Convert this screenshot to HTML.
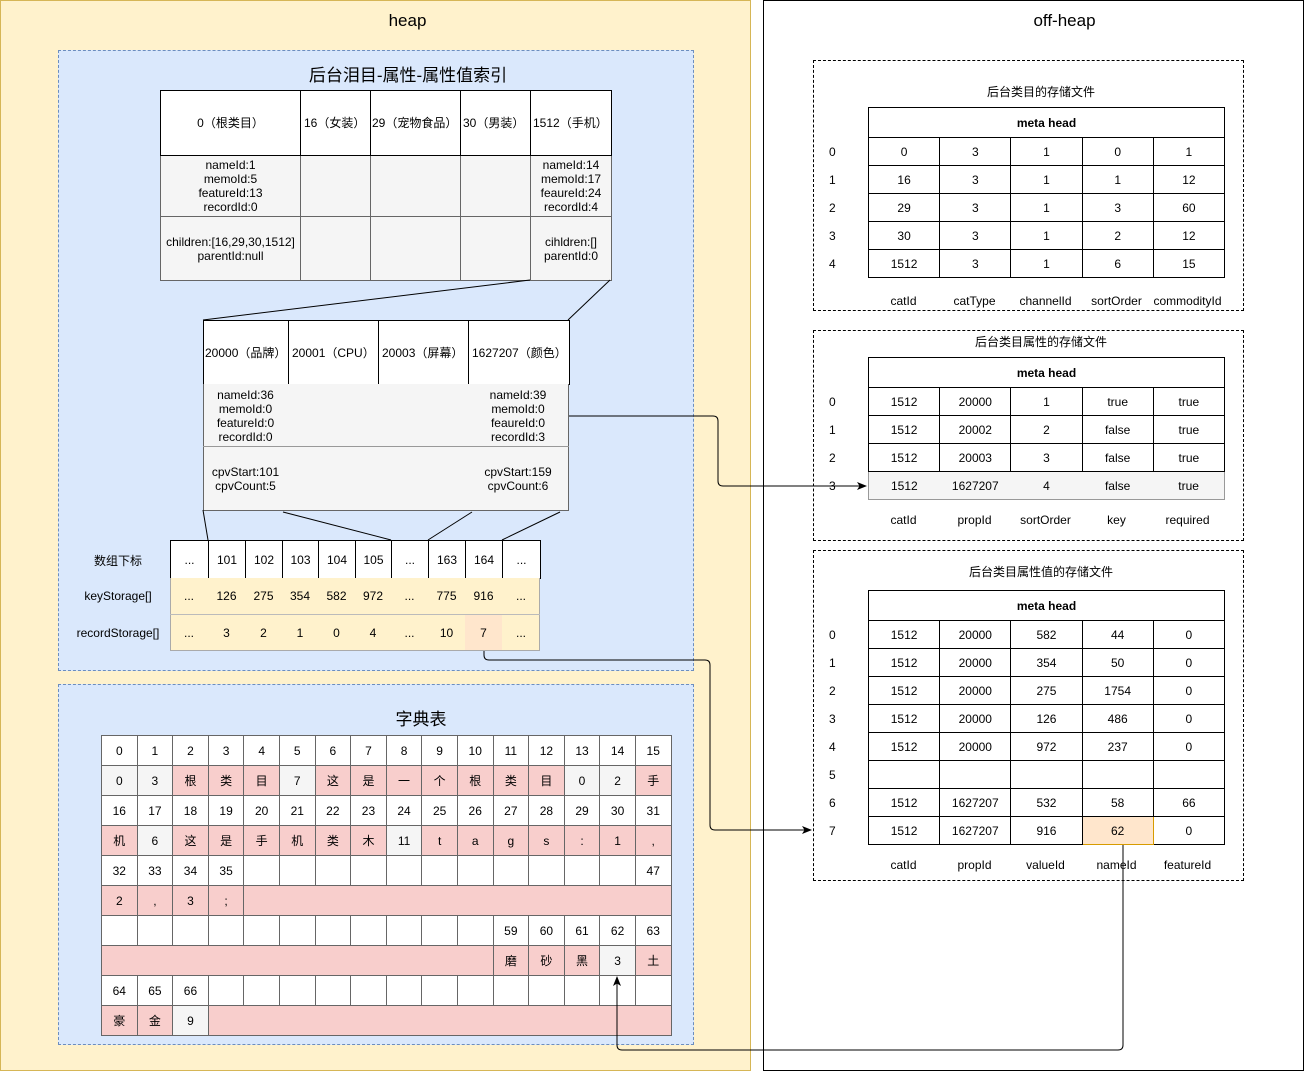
<!DOCTYPE html>
<html><head><meta charset="utf-8">
<style>
*{box-sizing:border-box;margin:0;padding:0}
body{width:1305px;height:1071px;position:relative;background:#fff;font-family:"Liberation Sans","Noto Sans CJK SC",sans-serif;font-size:12px;color:#000;overflow:hidden}
.a{position:absolute}
table{position:absolute;border-collapse:collapse;table-layout:fixed}
td{border:1px solid #000;text-align:center;vertical-align:middle;padding:0;font-size:12px;line-height:14px;white-space:nowrap;overflow:hidden}
.g td{border-color:#666}
.gr{background:#f5f5f5}
.pk{background:#f8cecc}
.pe{background:#ffe6cc}
.ye{background:#fff2cc}
.t{position:absolute;text-align:center;font-size:12px}
.lbl{position:absolute;font-size:12px;text-align:center;width:71px}
.idx{position:absolute;font-size:12px;left:829px}
</style></head><body>
<div class="a" style="left:0;top:0;width:751px;height:1071px;background:#fff2cc;border:1px solid #d6b656"></div>
<div class="a" style="left:763px;top:0;width:541px;height:1071px;background:#fff;border:1px solid #000"></div>
<div class="t" style="left:32px;top:11px;width:751px;font-size:17px">heap</div>
<div class="t" style="left:794px;top:11px;width:541px;font-size:17px">off-heap</div>

<div class="a" style="left:58px;top:50px;width:636px;height:621px;background:#dae8fc;border:1px dashed #6c8ebf"></div>
<div class="a" style="left:58px;top:684px;width:636px;height:361px;background:#dae8fc;border:1px dashed #6c8ebf"></div>
<div class="t" style="left:58px;top:61px;width:700px;font-size:17px">后台泪目-属性-属性值索引</div>
<div class="t" style="left:58px;top:705px;width:726px;font-size:17px">字典表</div>

<!-- top category table -->
<table class="g" style="left:160px;top:90px;width:451px">
<colgroup><col style="width:140px"><col style="width:70px"><col style="width:90px"><col style="width:70px"><col style="width:81px"></colgroup>
<tr style="height:65px;background:#fff"><td style="border-color:#000">0（根类目）</td><td style="text-align:left;padding-left:3px;border-color:#000">16（女装）</td><td style="text-align:left;padding-left:1px;border-color:#000">29（宠物食品）</td><td style="text-align:left;padding-left:2px;border-color:#000">30（男装）</td><td style="text-align:left;padding-left:2px;border-color:#000">1512（手机）</td></tr>
<tr style="height:61px" class="gr"><td>nameId:1<br>memoId:5<br>featureId:13<br>recordId:0</td><td></td><td></td><td></td><td>nameId:14<br>memoId:17<br>feaureId:24<br>recordId:4</td></tr>
<tr style="height:64px" class="gr"><td>children:[16,29,30,1512]<br>parentId:null</td><td></td><td></td><td></td><td>cihldren:[]<br>parentId:0</td></tr>
</table>

<!-- property table -->
<table class="g" style="left:203px;top:320px;width:366px">
<colgroup><col style="width:85px"><col style="width:90px"><col style="width:90px"><col style="width:101px"></colgroup>
<tr style="height:64px;background:#fff"><td style="text-align:left;padding-left:1px;border-color:#000">20000（品牌）</td><td style="text-align:left;padding-left:3px;border-color:#000">20001（CPU）</td><td style="text-align:left;padding-left:3px;border-color:#000">20003（屏幕）</td><td style="text-align:left;padding-left:3px;border-color:#000">1627207（颜色）</td></tr>
</table>
<div class="a gr" style="left:203px;top:384px;width:366px;height:127px;border:1px solid #666;border-top:none"></div>
<div class="a" style="left:203px;top:446px;width:366px;height:1px;background:#999"></div>
<div class="t" style="left:203px;top:388px;width:85px">nameId:36<br>memoId:0<br>featureId:0<br>recordId:0</div>
<div class="t" style="left:468px;top:388px;width:100px">nameId:39<br>memoId:0<br>feaureId:0<br>recordId:3</div>
<div class="t" style="left:203px;top:465px;width:85px">cpvStart:101<br>cpvCount:5</div>
<div class="t" style="left:468px;top:465px;width:100px">cpvStart:159<br>cpvCount:6</div>

<!-- array -->
<div class="t" style="left:70px;top:552px;width:96px">数组下标</div>
<div class="t" style="left:66px;top:589px;width:104px">keyStorage[]</div>
<div class="t" style="left:66px;top:626px;width:104px">recordStorage[]</div>
<table class="g" style="left:170px;top:540px;width:370px">
<colgroup><col style="width:38px"><col style="width:37px"><col style="width:37px"><col style="width:36px"><col style="width:37px"><col style="width:36px"><col style="width:37px"><col style="width:37px"><col style="width:37px"><col style="width:38px"></colgroup>
<tr style="height:38px;background:#fff"><td style="border-color:#000">...</td><td style="border-color:#000">101</td><td style="border-color:#000">102</td><td style="border-color:#000">103</td><td style="border-color:#000">104</td><td style="border-color:#000">105</td><td style="border-color:#000">...</td><td style="border-color:#000">163</td><td style="border-color:#000">164</td><td style="border-color:#000">...</td></tr>
</table>
<div class="a ye" style="left:170px;top:578px;width:370px;height:73px;border:1px solid #aaa;border-top:none"></div>
<div class="a" style="left:170px;top:614px;width:370px;height:1px;background:#bbb"></div>
<div class="a pe" style="left:465px;top:615px;width:37px;height:35px"></div>
<div class="t" style="left:170px;top:589px;width:38px">...</div><div class="t" style="left:208px;top:589px;width:37px">126</div><div class="t" style="left:245px;top:589px;width:37px">275</div><div class="t" style="left:282px;top:589px;width:36px">354</div><div class="t" style="left:318px;top:589px;width:37px">582</div><div class="t" style="left:355px;top:589px;width:36px">972</div><div class="t" style="left:391px;top:589px;width:37px">...</div><div class="t" style="left:428px;top:589px;width:37px">775</div><div class="t" style="left:465px;top:589px;width:37px">916</div><div class="t" style="left:502px;top:589px;width:38px">...</div>
<div class="t" style="left:170px;top:626px;width:38px">...</div><div class="t" style="left:208px;top:626px;width:37px">3</div><div class="t" style="left:245px;top:626px;width:37px">2</div><div class="t" style="left:282px;top:626px;width:36px">1</div><div class="t" style="left:318px;top:626px;width:37px">0</div><div class="t" style="left:355px;top:626px;width:36px">4</div><div class="t" style="left:391px;top:626px;width:37px">...</div><div class="t" style="left:428px;top:626px;width:37px">10</div><div class="t" style="left:465px;top:626px;width:37px">7</div><div class="t" style="left:502px;top:626px;width:38px">...</div>

<!-- dictionary -->
<table class="g" style="left:101px;top:735px;width:570px">
<colgroup><col span="16" style="width:35.6px"></colgroup>
<tr style="height:30px;background:#fff"><td>0</td><td>1</td><td>2</td><td>3</td><td>4</td><td>5</td><td>6</td><td>7</td><td>8</td><td>9</td><td>10</td><td>11</td><td>12</td><td>13</td><td>14</td><td>15</td></tr>
<tr style="height:30px"><td class="gr">0</td><td class="gr">3</td><td class="pk">根</td><td class="pk">类</td><td class="pk">目</td><td class="gr">7</td><td class="pk">这</td><td class="pk">是</td><td class="pk">一</td><td class="pk">个</td><td class="pk">根</td><td class="pk">类</td><td class="pk">目</td><td class="gr">0</td><td class="gr">2</td><td class="pk">手</td></tr>
<tr style="height:30px;background:#fff"><td>16</td><td>17</td><td>18</td><td>19</td><td>20</td><td>21</td><td>22</td><td>23</td><td>24</td><td>25</td><td>26</td><td>27</td><td>28</td><td>29</td><td>30</td><td>31</td></tr>
<tr style="height:30px"><td class="pk">机</td><td class="gr">6</td><td class="pk">这</td><td class="pk">是</td><td class="pk">手</td><td class="pk">机</td><td class="pk">类</td><td class="pk">木</td><td class="gr">11</td><td class="pk">t</td><td class="pk">a</td><td class="pk">g</td><td class="pk">s</td><td class="pk">:</td><td class="pk">1</td><td class="pk">,</td></tr>
<tr style="height:30px;background:#fff"><td>32</td><td>33</td><td>34</td><td>35</td><td></td><td></td><td></td><td></td><td></td><td></td><td></td><td></td><td></td><td></td><td></td><td>47</td></tr>
<tr style="height:30px" class="pk"><td>2</td><td>,</td><td>3</td><td>;</td><td colspan="12"></td></tr>
<tr style="height:30px;background:#fff"><td></td><td></td><td></td><td></td><td></td><td></td><td></td><td></td><td></td><td></td><td></td><td>59</td><td>60</td><td>61</td><td>62</td><td>63</td></tr>
<tr style="height:30px" class="pk"><td colspan="11"></td><td>磨</td><td>砂</td><td>黑</td><td class="gr">3</td><td>土</td></tr>
<tr style="height:30px;background:#fff"><td>64</td><td>65</td><td>66</td><td></td><td></td><td></td><td></td><td></td><td></td><td></td><td></td><td></td><td></td><td></td><td></td><td></td></tr>
<tr style="height:30px" class="pk"><td>豪</td><td>金</td><td class="gr">9</td><td colspan="13"></td></tr>
</table>

<!-- off-heap box 1 -->
<div class="a" style="left:813px;top:60px;width:431px;height:251px;border:1px dashed #000"></div>
<div class="t" style="left:813px;top:83px;width:456px">后台类目的存储文件</div>
<table style="left:868px;top:107px;width:356px">
<colgroup><col span="5" style="width:71.2px"></colgroup>
<tr style="height:30px"><td colspan="5" style="font-weight:bold">meta head</td></tr>
<tr style="height:28px"><td>0</td><td>3</td><td>1</td><td>0</td><td>1</td></tr>
<tr style="height:28px"><td>16</td><td>3</td><td>1</td><td>1</td><td>12</td></tr>
<tr style="height:28px"><td>29</td><td>3</td><td>1</td><td>3</td><td>60</td></tr>
<tr style="height:28px"><td>30</td><td>3</td><td>1</td><td>2</td><td>12</td></tr>
<tr style="height:28px"><td>1512</td><td>3</td><td>1</td><td>6</td><td>15</td></tr>
</table>
<div class="idx" style="top:145px">0</div><div class="idx" style="top:173px">1</div><div class="idx" style="top:201px">2</div><div class="idx" style="top:229px">3</div><div class="idx" style="top:257px">4</div>
<div class="lbl" style="left:868px;top:294px">catId</div><div class="lbl" style="left:939px;top:294px">catType</div><div class="lbl" style="left:1010px;top:294px">channelId</div><div class="lbl" style="left:1081px;top:294px">sortOrder</div><div class="lbl" style="left:1150px;top:294px;width:75px">commodityId</div>

<!-- off-heap box 2 -->
<div class="a" style="left:813px;top:330px;width:431px;height:211px;border:1px dashed #000"></div>
<div class="t" style="left:813px;top:333px;width:456px">后台类目属性的存储文件</div>
<table style="left:868px;top:357px;width:356px">
<colgroup><col span="5" style="width:71.2px"></colgroup>
<tr style="height:30px"><td colspan="5" style="font-weight:bold">meta head</td></tr>
<tr style="height:28px"><td>1512</td><td>20000</td><td>1</td><td>true</td><td>true</td></tr>
<tr style="height:28px"><td>1512</td><td>20002</td><td>2</td><td>false</td><td>true</td></tr>
<tr style="height:28px"><td>1512</td><td>20003</td><td>3</td><td>false</td><td>true</td></tr>
<tr style="height:28px" class="gr"><td style="border-color:#999;border-right:none">1512</td><td style="border:none;border-bottom:1px solid #999">1627207</td><td style="border:none;border-bottom:1px solid #999">4</td><td style="border:none;border-bottom:1px solid #999">false</td><td style="border-color:#999;border-left:none">true</td></tr>
</table>
<div class="idx" style="top:395px">0</div><div class="idx" style="top:423px">1</div><div class="idx" style="top:451px">2</div><div class="idx" style="top:479px">3</div>
<div class="lbl" style="left:868px;top:513px">catId</div><div class="lbl" style="left:939px;top:513px">propId</div><div class="lbl" style="left:1010px;top:513px">sortOrder</div><div class="lbl" style="left:1081px;top:513px">key</div><div class="lbl" style="left:1152px;top:513px">required</div>

<!-- off-heap box 3 -->
<div class="a" style="left:813px;top:550px;width:431px;height:331px;border:1px dashed #000"></div>
<div class="t" style="left:813px;top:563px;width:456px">后台类目属性值的存储文件</div>
<table style="left:868px;top:590px;width:356px">
<colgroup><col span="5" style="width:71.2px"></colgroup>
<tr style="height:30px"><td colspan="5" style="font-weight:bold">meta head</td></tr>
<tr style="height:28px"><td>1512</td><td>20000</td><td>582</td><td>44</td><td>0</td></tr>
<tr style="height:28px"><td>1512</td><td>20000</td><td>354</td><td>50</td><td>0</td></tr>
<tr style="height:28px"><td>1512</td><td>20000</td><td>275</td><td>1754</td><td>0</td></tr>
<tr style="height:28px"><td>1512</td><td>20000</td><td>126</td><td>486</td><td>0</td></tr>
<tr style="height:28px"><td>1512</td><td>20000</td><td>972</td><td>237</td><td>0</td></tr>
<tr style="height:28px"><td></td><td></td><td></td><td></td><td></td></tr>
<tr style="height:28px"><td>1512</td><td>1627207</td><td>532</td><td>58</td><td>66</td></tr>
<tr style="height:28px"><td>1512</td><td>1627207</td><td>916</td><td class="pe" style="border-color:#d79b00">62</td><td>0</td></tr>
</table>
<div class="idx" style="top:628px">0</div><div class="idx" style="top:656px">1</div><div class="idx" style="top:684px">2</div><div class="idx" style="top:712px">3</div><div class="idx" style="top:740px">4</div><div class="idx" style="top:768px">5</div><div class="idx" style="top:796px">6</div><div class="idx" style="top:824px">7</div>
<div class="lbl" style="left:868px;top:858px">catId</div><div class="lbl" style="left:939px;top:858px">propId</div><div class="lbl" style="left:1010px;top:858px">valueId</div><div class="lbl" style="left:1081px;top:858px">nameId</div><div class="lbl" style="left:1152px;top:858px">featureId</div>

<svg class="a" style="left:0;top:0" width="1305" height="1071">
<defs><marker id="ar" markerWidth="10" markerHeight="8" refX="9" refY="4" orient="auto" markerUnits="userSpaceOnUse"><path d="M0,0 L10,4 L0,8 L2.5,4 z" fill="#000"/></marker></defs>
<g stroke="#000" stroke-width="1" fill="none">
<line x1="530" y1="280" x2="203" y2="320"/>
<line x1="610" y1="280" x2="568" y2="320"/>
<line x1="203" y1="510" x2="208" y2="540"/>
<line x1="283" y1="512" x2="391" y2="540"/>
<line x1="472" y1="512" x2="428" y2="540"/>
<line x1="560" y1="512" x2="502" y2="540"/>
<path d="M569,416 H713 Q718,416 718,421 V481 Q718,486 723,486 H866" marker-end="url(#ar)"/>
<path d="M484,651 V655 Q484,660 489,660 H705 Q710,660 710,665 V825 Q710,830 715,830 H811" marker-end="url(#ar)"/>
<path d="M1123,845 V1045 Q1123,1050 1118,1050 H622 Q617,1050 617,1045 V977" marker-end="url(#ar)"/>
</g>
</svg>
</body></html>
